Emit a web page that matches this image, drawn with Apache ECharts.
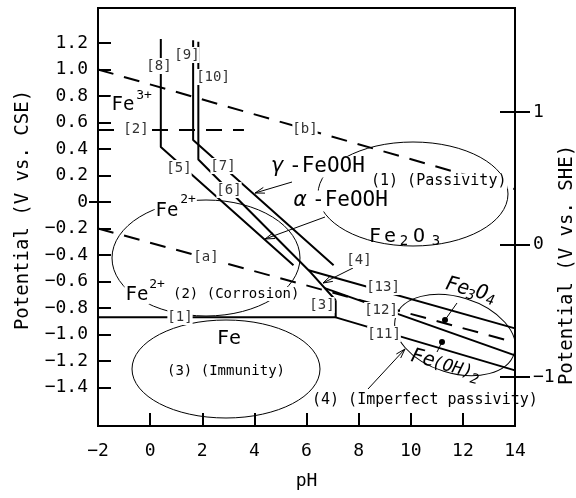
<!DOCTYPE html>
<html>
<head>
<meta charset="utf-8">
<script src="https://cdn.jsdelivr.net/npm/echarts@6/dist/echarts.min.js"></script>
<style>html,body{margin:0;padding:0;background:#fff}#chart{width:576px;height:498px}</style>
</head>
<body>
<div id="chart"></div>
<script>
// potential-pH lines, points are [pH, V vs. CSE]
const lineB = [[-2, 1.0], [14, 0.097]];
const lineA = [[-2, -0.2], [14, -1.06]];
const line2 = [[-2, 0.543], [3.6, 0.543]];
const line8to5 = [[0.41, 1.23], [0.41, 0.414], [5.5, -0.478]];
const line9to7 = [[1.65, 1.22], [1.65, 0.467], [7.04, -0.478]];
const line10to6to4 = [[1.85, 1.21], [1.85, 0.32], [6.08, -0.515], [7.12, -0.742]];
const line1to3 = [[-2, -0.871], [7.12, -0.871], [7.12, -0.742]];
const line13 = [[6.08, -0.515], [14, -0.954]];
const line12 = [[6.7, -0.65], [14, -1.158]];
const line11 = [[7.12, -0.871], [14, -1.271]];

const cseTicks = [-1.4, -1.2, -1.0, -0.8, -0.6, -0.4, -0.2, 0, 0.2, 0.4, 0.6, 0.8, 1.0, 1.2];
const sheTicks = [-1, 0, 1];
const sheOffset = 0.32;
const yMin = -1.691, yMax = 1.464;

const MONO = '"DejaVu Sans Mono"';

function fmtInt(v) {
  return String(v).replace('-', '\u2212');
}
function fmtCse(v) {
  return (v === 0 ? '0' : v.toFixed(1)).replace('-', '\u2212');
}

function txt(s, x, y, size, extra) {
  return {
    type: 'text', x: x, y: y, z: 100,
    style: Object.assign({
      text: s, font: size + 'px ' + MONO, fill: '#000',
      align: 'center', verticalAlign: 'middle'
    }, extra || {})
  };
}
function tag(s, x, y) {
  return txt(s, x, y, 14, { fill: '#333', backgroundColor: '#fff', padding: [1, 0] });
}
function ell(cx, cy, rx, ry, rot) {
  return {
    type: 'ellipse', x: cx, y: cy, rotation: rot || 0, z: 50,
    shape: { cx: 0, cy: 0, rx: rx, ry: ry },
    style: { stroke: '#000', fill: null, lineWidth: 1 }
  };
}
function seg(x1, y1, x2, y2) {
  return { type: 'line', z: 60, shape: { x1: x1, y1: y1, x2: x2, y2: y2 }, style: { stroke: '#000', lineWidth: 1 } };
}
function arrow(x1, y1, x2, y2) {
  const a = Math.atan2(y2 - y1, x2 - x1), L = 10, w = 0.3;
  return [seg(x1, y1, x2, y2), {
    type: 'polyline', z: 60,
    shape: { points: [[x2 - L * Math.cos(a - w), y2 - L * Math.sin(a - w)], [x2, y2], [x2 - L * Math.cos(a + w), y2 - L * Math.sin(a + w)]] },
    style: { stroke: '#000', fill: null, lineWidth: 1 }
  }];
}
function dot(x, y) {
  return { type: 'circle', z: 60, shape: { cx: x, cy: y, r: 3 }, style: { fill: '#000' } };
}

function mk(data, dashed) {
  return {
    type: 'line', data: data, symbol: 'none', silent: true, animation: false,
    lineStyle: { color: '#000', width: 2, type: dashed ? [16, 11] : 'solid' }
  };
}

const bg = { backgroundColor: '#fff', padding: [0, 1] };
const left = { align: 'left' };

const graphics = [
  ell(413, 194, 95, 52),
  ell(206, 258, 94, 58),
  ell(226, 369, 94, 49),
  ell(455, 335, 62, 38, -0.3),
  // axis titles
  txt('Potential (V vs. CSE)', 23, 210, 19, {}),
  txt('Potential (V vs. SHE)', 567, 265, 19, {}),
  // region labels
  txt('Fe', 123, 105, 19, bg), txt('3+', 144, 96, 13),
  txt('Fe', 167, 211, 19, bg), txt('2+', 188, 200, 13, bg),
  txt('Fe', 137, 295, 19, bg), txt('2+', 157, 285, 13, bg),
  txt('(2) (Corrosion)', 172, 294, 14, Object.assign({}, left, bg)),
  txt('(1) (Passivity)', 370, 181, 15, Object.assign({}, left, bg)),
  txt('Fe', 229, 339, 20),
  txt('(3) (Immunity)', 167, 371, 14, left),
  txt('(4) (Imperfect passivity)', 312, 400, 15, left),
  txt('\u03b3', 278, 167, 21, { font: 'italic 21px ' + MONO }),
  txt('-FeOOH', 288, 167, 21, Object.assign({}, left, bg)),
  txt('\u03b1', 300, 201, 21, { font: 'italic 21px ' + MONO }),
  txt('-FeOOH', 311, 201, 21, Object.assign({}, left, bg)),
  txt('F', 375, 237, 20), txt('e', 390, 237, 20), txt('2', 404, 241, 14),
  txt('O', 419, 237, 20), txt('3', 436, 241, 14),
  {
    type: 'group', x: 469, y: 290, rotation: -0.26, z: 100,
    children: [
      txt('Fe', -12, 0, 20, { font: 'italic 20px ' + MONO }),
      txt('3', 3, 5, 14, { font: 'italic 14px ' + MONO }),
      txt('O', 13, 0, 20, { font: 'italic 20px ' + MONO }),
      txt('4', 23, 5, 14, { font: 'italic 14px ' + MONO })
    ]
  },
  {
    type: 'group', x: 446, y: 365, rotation: -0.26, z: 100,
    children: [
      txt('Fe', -24, 0, 20, { font: 'italic 20px ' + MONO }),
      txt('(OH)', 7, 1, 17, { font: 'italic 17px ' + MONO }),
      txt('2', 31, 7, 14, { font: 'italic 14px ' + MONO })
    ]
  },
  seg(457, 303, 445, 320), dot(445, 320),
  seg(437, 352, 442, 342), dot(442, 342),
  ...arrow(292, 182, 255, 193),
  ...arrow(325, 217, 265, 239),
  ...arrow(353, 268, 323, 283),
  ...arrow(368, 389, 405, 349),
  // line tags
  tag('[8]', 159, 66), tag('[9]', 187, 55), tag('[10]', 213, 77),
  tag('[2]', 136, 129), tag('[b]', 305, 129), tag('[5]', 179, 168),
  tag('[7]', 223, 166), tag('[6]', 229, 190), tag('[a]', 206, 257),
  tag('[4]', 359, 260), tag('[3]', 322, 305), tag('[13]', 383, 287),
  tag('[12]', 381, 310), tag('[11]', 384, 334), tag('[1]', 180, 317)
];
graphics[4].rotation = Math.PI / 2;
graphics[5].rotation = Math.PI / 2;

const axisBlack = { color: '#000', width: 2 };

const chart = echarts.init(document.getElementById('chart'), null, { renderer: 'canvas' });
chart.setOption({
  animation: false,
  backgroundColor: '#fff',
  grid: { left: 98, right: 61, top: 8, bottom: 72, show: true, borderColor: '#000', borderWidth: 2 },
  xAxis: {
    type: 'value', min: -2, max: 14, interval: 2,
    name: 'pH', nameLocation: 'middle', nameGap: 46,
    nameTextStyle: { fontFamily: MONO, fontSize: 18, color: '#000' },
    axisLine: { onZero: false, lineStyle: axisBlack },
    axisTick: { inside: true, length: 13, lineStyle: axisBlack },
    axisLabel: { margin: 16, fontFamily: MONO, fontSize: 18, color: '#000', formatter: fmtInt },
    splitLine: { show: false }
  },
  yAxis: [{
    type: 'value', min: yMin, max: yMax,
    axisLine: { show: true, onZero: false, lineStyle: axisBlack },
    axisTick: { inside: true, length: 13, customValues: cseTicks, lineStyle: axisBlack },
    axisLabel: { margin: 10, customValues: cseTicks, fontFamily: MONO, fontSize: 18, color: '#000', formatter: fmtCse },
    splitLine: { show: false }
  }, {
    // short outward tick at 0 V on the left
    type: 'value', position: 'left', min: yMin, max: yMax,
    axisLine: { show: false, onZero: false },
    axisTick: { inside: false, length: 9, customValues: [0], lineStyle: axisBlack },
    axisLabel: { show: false },
    splitLine: { show: false }
  }, {
    type: 'value', position: 'right', min: yMin + sheOffset, max: yMax + sheOffset,
    axisLine: { show: true, onZero: false, lineStyle: axisBlack },
    axisTick: { inside: false, length: 15, customValues: sheTicks, lineStyle: axisBlack },
    axisLabel: { margin: 18, customValues: sheTicks, fontFamily: MONO, fontSize: 18, color: '#000', formatter: fmtInt },
    splitLine: { show: false }
  }, {
    type: 'value', position: 'right', min: yMin + sheOffset, max: yMax + sheOffset,
    axisLine: { show: false, onZero: false },
    axisTick: { inside: true, length: 15, customValues: sheTicks, lineStyle: axisBlack },
    axisLabel: { show: false },
    splitLine: { show: false }
  }],
  series: [
    mk(lineB, true), mk(lineA, true), mk(line2, true),
    mk(line8to5), mk(line9to7), mk(line10to6to4), mk(line1to3),
    mk(line13), mk(line12), mk(line11)
  ],
  graphic: graphics
});
</script>
</body>
</html>
